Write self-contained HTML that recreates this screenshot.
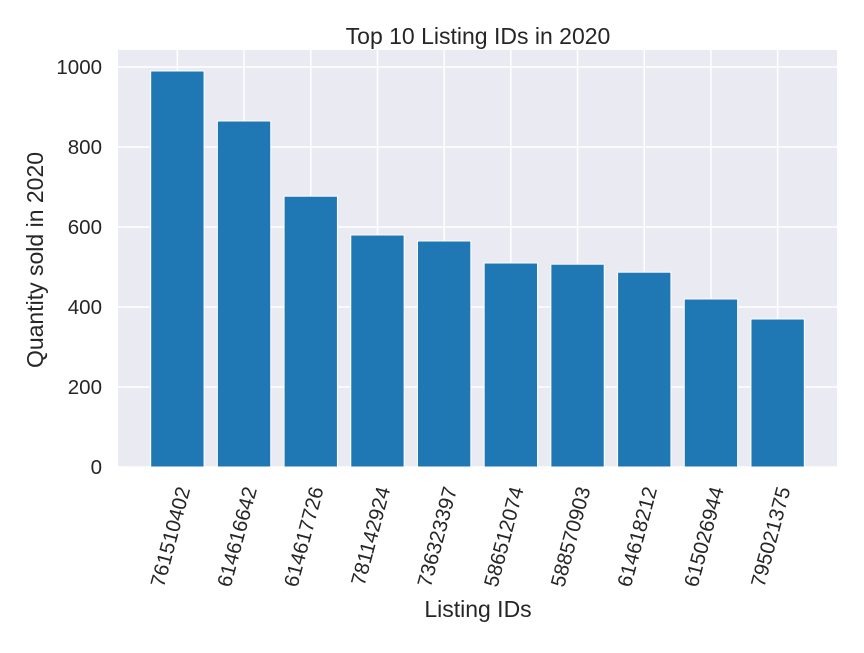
<!DOCTYPE html>
<html><head><meta charset="utf-8"><style>
body{margin:0;background:#fff;}
svg text{font-family:"Liberation Sans","DejaVu Sans",sans-serif;fill:#262626;}
</style></head><body>
<svg id="chart" width="864" height="648" xmlns="http://www.w3.org/2000/svg">
<rect x="118" y="50" width="719" height="417" fill="#eaeaf2"/>
<g id="grid"></g><g id="bars"></g><g id="xt"></g><g id="yt"></g>
<text x="478" y="44" font-size="23" text-anchor="middle">Top 10 Listing IDs in 2020</text>
<text x="478" y="617" font-size="23" text-anchor="middle">Listing IDs</text>
<text transform="translate(43,260) rotate(-90)" font-size="23" text-anchor="middle">Quantity sold in 2020</text>
</svg>
<script>
const categories=["761510402","614616642","614617726","781142924","736323397","586512074","588570903","614618212","615026944","795021375"];
const values=[990,865,677,580,565,510,507,487,420,370];
const yTicks=[0,200,400,600,800,1000];
const NS="http://www.w3.org/2000/svg";
const L=118,R=837,T=50,B=467,xmin=-0.89,xmax=9.89,ymax=1042.5;
const xs=i=>L+(i-xmin)/(xmax-xmin)*(R-L);
const ys=v=>B-v/ymax*(B-T);
function mk(tag,a,p){const e=document.createElementNS(NS,tag);for(const k in a)e.setAttribute(k,a[k]);document.getElementById(p).appendChild(e);return e;}
yTicks.forEach(t=>{
  const g=mk('line',{x1:L,x2:R,y1:ys(t),y2:ys(t),stroke:'#fff','stroke-width':1.5},'grid');
  
  
  const tx=mk('text',{x:L-16,y:ys(t)+7,'font-size':20.5,'text-anchor':'end'},'yt');
  tx.textContent=t;
  
  
});
categories.forEach((c,i)=>{
  const g=mk('line',{x1:xs(i),x2:xs(i),y1:T,y2:B,stroke:'#fff','stroke-width':1.5},'grid');
  
  
});
categories.forEach((c,i)=>{
  const w=0.8*(R-L)/(xmax-xmin);
  const b=mk('rect',{x:xs(i)-w/2,y:ys(values[i]),width:w,height:B-ys(values[i]),fill:'#1f77b4',stroke:'#fff','stroke-width':1},'bars');
  
  
  const tx=mk('text',{transform:`translate(${xs(i)+13},${B+22}) rotate(-75)`,'font-size':20.5,'text-anchor':'end'},'xt');
  tx.textContent=c;
  
  
});
</script>
</body></html>
